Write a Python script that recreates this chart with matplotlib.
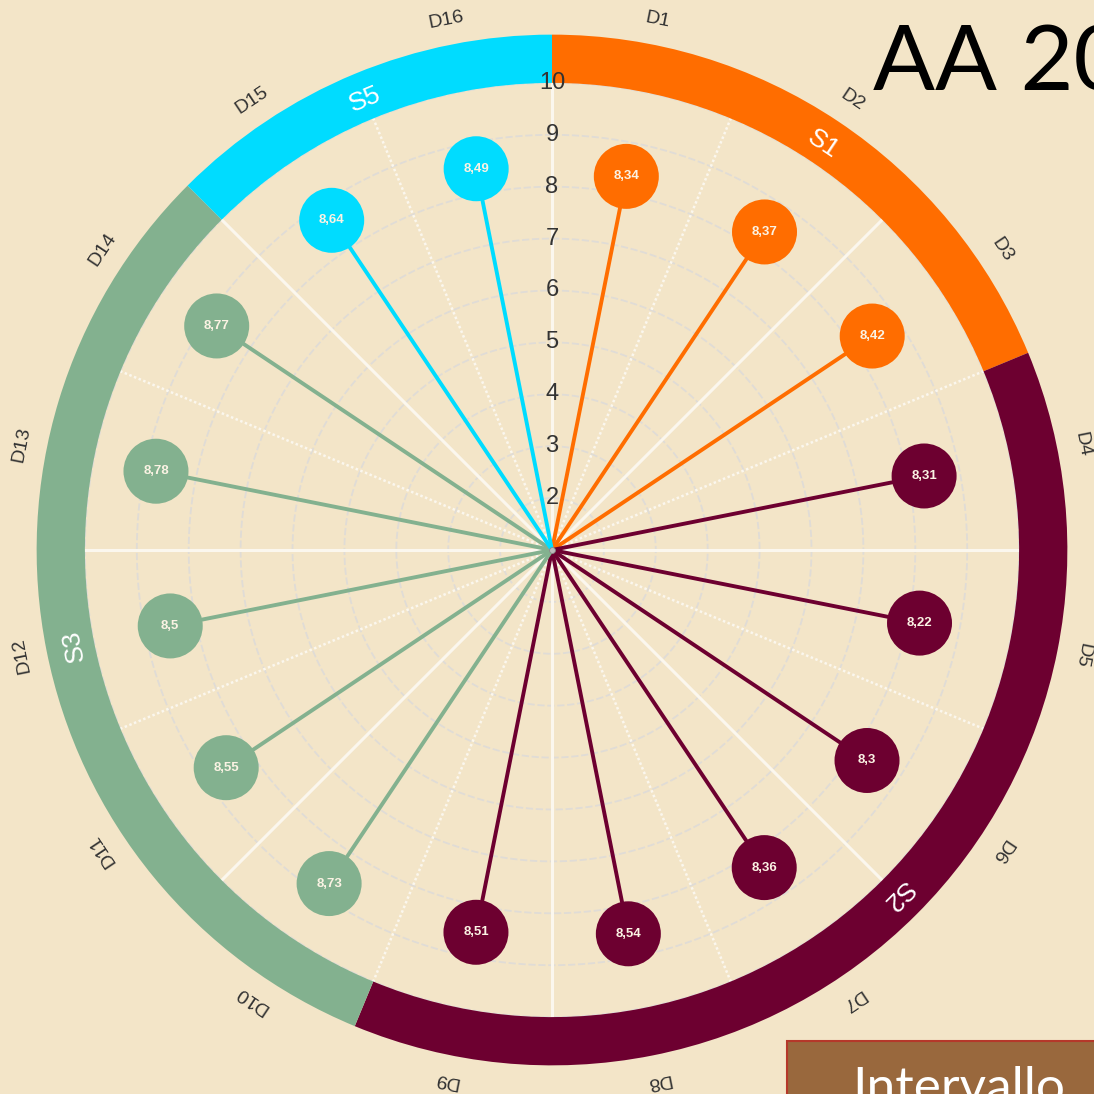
# Polar lollipop chart: 16 items grouped in sectors, outer coloured ring
import numpy as np
import matplotlib.pyplot as plt
from matplotlib.patches import Rectangle

categories = ["D1", "D2", "D3", "D4", "D5", "D6", "D7", "D8",
              "D9", "D10", "D11", "D12", "D13", "D14", "D15", "D16"]
values = [8.34, 8.37, 8.42, 8.31, 8.22, 8.3, 8.36, 8.54,
          8.51, 8.73, 8.55, 8.5, 8.78, 8.77, 8.64, 8.49]
sectors = ["S1", "S2", "S3", "S5"]
sector_counts = [3, 6, 5, 2]
sector_colors = ["#FF6D00", "#6D0030", "#83B18F", "#00DCFF"]
rticks = [2, 3, 4, 5, 6, 7, 8, 9, 10]

BG = "#F3E5C8"
n = len(categories)
step = 2 * np.pi / n
theta = np.arange(n) * step + step / 2

item_colors = []
for c, k in zip(sector_colors, sector_counts):
    item_colors += [c] * k

fig = plt.figure(figsize=(10.94, 10.94), dpi=100, facecolor=BG)
# center at (552, 550) px, r=10 -> 467 px, r=11 -> 519 px
R = 519 / 1094
cx, cy = 552 / 1094, 1 - 550 / 1094
ax = fig.add_axes([cx - R, cy - R, 2 * R, 2 * R], projection="polar")
ax.set_facecolor("none")
ax.set_theta_zero_location("N")
ax.set_theta_direction(-1)
ax.set_ylim(1, 11)
ax.grid(False)
ax.spines["polar"].set_visible(False)
ax.set_xticks([])
ax.set_yticks([])

# grid circles
tt = np.linspace(0, 2 * np.pi, 500)
for r in rticks:
    ax.plot(tt, np.full_like(tt, r), color="#E0DCD6", lw=1.3,
            ls=(0, (4, 1.5)), zorder=1)
# radial lines
for i in range(16):
    a = i * np.pi / 8
    if i % 2 == 0:
        ax.plot([a, a], [1, 10], color="#FBF7EE", lw=2.2, zorder=1)
    else:
        ax.plot([a, a], [1, 10], color="#FBF7EE", lw=1.8,
                ls=(0, (1, 1)), zorder=1)

# outer ring by sector
start = 0
for name, k, col in zip(sectors, sector_counts, sector_colors):
    width = k * step
    mid = start + width / 2
    ax.bar(mid, 0.93, width=width, bottom=10, color=col, linewidth=0,
           zorder=2)
    ax.text(mid, 10.4, name, rotation=-np.degrees(mid), rotation_mode="anchor",
            ha="center", va="center", color="white", fontsize=19,
            family="Liberation Sans", zorder=5)
    start += width

# lollipops
for th, v, col in zip(theta, values, item_colors):
    ax.plot([th, th], [1, v], color=col, lw=2.8, solid_capstyle="butt",
            zorder=3)
ax.scatter(theta, values, s=2190, c=item_colors, linewidths=0, zorder=4)
for th, v in zip(theta, values):
    ax.text(th, v, f"{v:g}".replace(".", ","), ha="center", va="center",
            color="#FBF3E4", fontsize=9.5, fontweight="bold",
            family="Liberation Sans", zorder=5)
ax.scatter([0], [1], s=18, c="#BBBBBB", edgecolors="#888888",
           linewidths=0.6, zorder=5)

# category labels
for th, lab in zip(theta, categories):
    ax.text(th, 11.42, lab, rotation=-np.degrees(th), rotation_mode="anchor",
            ha="center", va="center", color="#333333", fontsize=14,
            family="Liberation Sans", clip_on=False)

# radial tick labels
for r in rticks:
    ax.text(0, r, str(r), ha="center", va="center", color="#333333",
            fontsize=17, family="Liberation Sans", zorder=6)

# title and box (cut off at figure edge, as in the slide)
fig.text(873 / 1094, 1 - 90 / 1094, "AA 2023/2024", ha="left",
         va="baseline", fontsize=66, family="Lato", color="black")
fig.patches.append(Rectangle((787 / 1094, -0.05), 0.4, 0.05 + 1 - 1041 / 1094,
                             transform=fig.transFigure, facecolor="#99683D",
                             edgecolor="#B5382A", lw=1.5))
fig.text(852 / 1094, 1 - 1103 / 1094, "Intervallo", ha="left",
         va="baseline", fontsize=37, family="Lato", color="white")

fig.savefig("out.png", dpi=100, facecolor=BG)
